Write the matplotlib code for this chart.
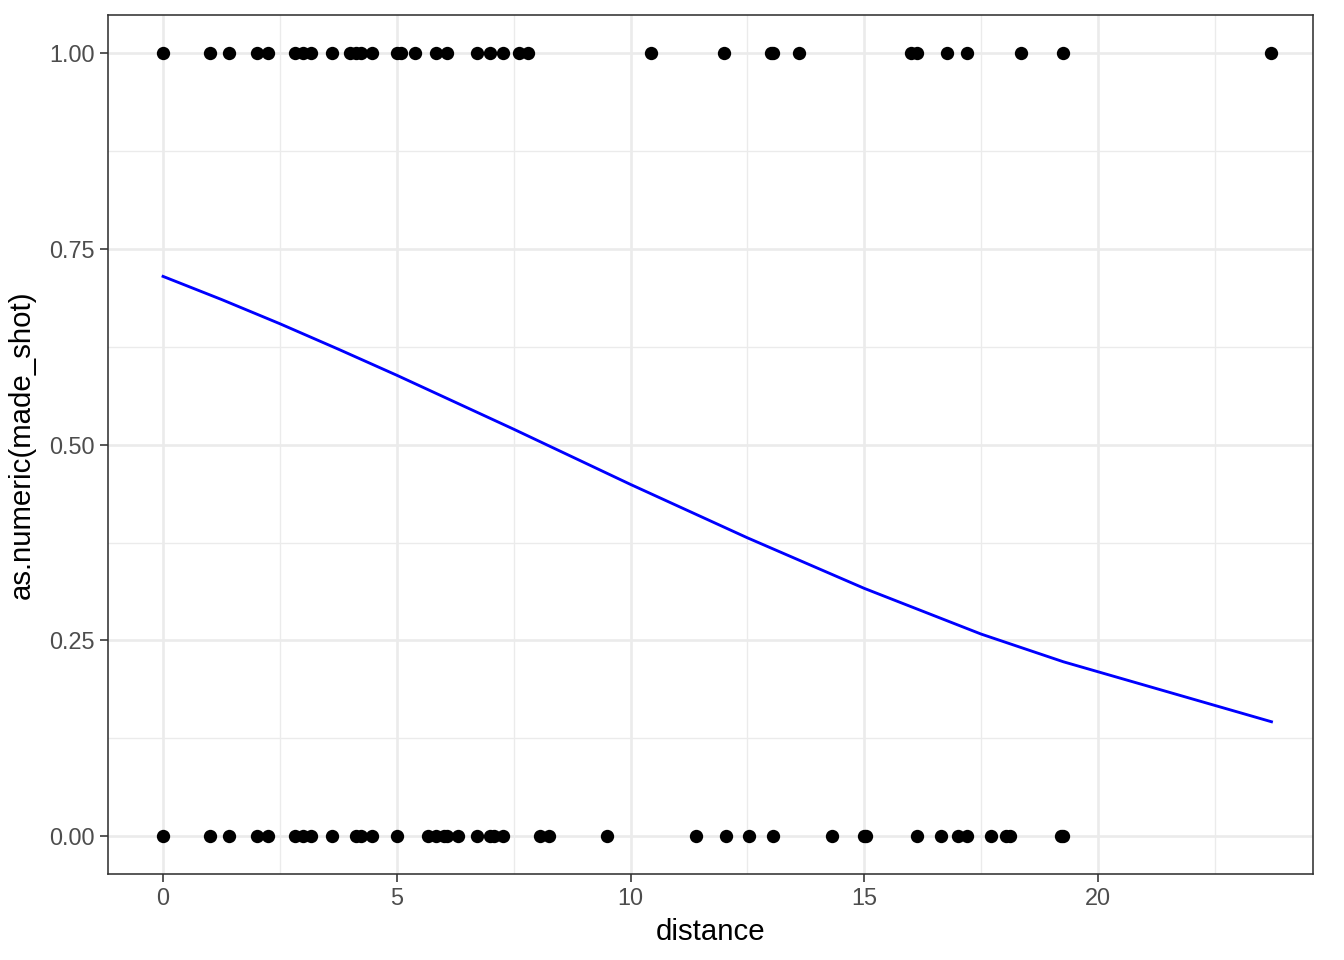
import matplotlib
matplotlib.use("Agg")
import matplotlib.pyplot as plt
import numpy as np

plt.rcParams['font.family'] = ['Liberation Sans', 'DejaVu Sans']

made_distance = [0, 1, 1.41, 2, 2.24, 2.83, 3, 3.16, 3.61, 4, 4.12, 4.24, 4.47, 5, 5.1,
                 5.39, 5.83, 6.08, 6.71, 7, 7.28, 7.62, 7.81, 10.44, 12, 13, 13.04, 13.6,
                 16, 16.12, 16.76, 17.2, 18.36, 19.24, 23.71]
missed_distance = [0, 1, 1.41, 2, 2.24, 2.83, 3, 3.16, 3.61, 4.12, 4.24, 4.47, 5, 5.66,
                   5.83, 6, 6.08, 6.32, 6.71, 7, 7.07, 7.28, 8.06, 8.25, 9.49, 11.4, 12.04,
                   12.53, 13.04, 14.32, 15, 15.03, 16.12, 16.64, 17, 17.2, 17.72, 18.03,
                   18.11, 19.21, 19.24]
curve_x = [0, 1.25, 2.5, 3.75, 5, 7.5, 10, 12.5, 15, 17.5, 19.26, 23.71]
curve_y = [0.715, 0.6855, 0.6545, 0.622, 0.5887, 0.5198, 0.4492, 0.381, 0.3164, 0.258, 0.2226, 0.146]

fig = plt.figure(figsize=(7, 5), dpi=192)
ax = fig.add_axes([0.0804, 0.0896, 0.977 - 0.0804, 0.984 - 0.0896])

ax.set_xlim(-1.176, 24.6)
ax.set_ylim(-0.0485, 1.0485)

ax.set_xticks([0, 5, 10, 15, 20])
ax.set_xticks([2.5, 7.5, 12.5, 17.5, 22.5], minor=True)
ax.set_yticks([0, 0.25, 0.5, 0.75, 1.0])
ax.set_yticklabels(["0.00", "0.25", "0.50", "0.75", "1.00"])
ax.set_yticks([0.125, 0.375, 0.625, 0.875], minor=True)

ax.grid(which='major', color='#EBEBEB', linewidth=1.0)
ax.grid(which='minor', color='#EBEBEB', linewidth=0.5)
ax.set_axisbelow(True)

for s in ax.spines.values():
    s.set_color('#333333')
    s.set_linewidth(0.6)

ax.tick_params(which='major', length=3, width=0.6, color='#333333', labelcolor='#4D4D4D', labelsize=8.8, pad=2)
ax.tick_params(which='minor', length=0)

ax.scatter(made_distance, [1] * len(made_distance), s=25, color='black', zorder=3, linewidths=0)
ax.scatter(missed_distance, [0] * len(missed_distance), s=25, color='black', zorder=3, linewidths=0)
ax.plot(curve_x, curve_y, color='blue', linewidth=1.07, zorder=4)

ax.set_xlabel("distance", fontsize=11, color='black', labelpad=3)
ax.set_ylabel("as.numeric(made_shot)", fontsize=11, color='black', labelpad=5)

fig.savefig("out.png", dpi=192)
